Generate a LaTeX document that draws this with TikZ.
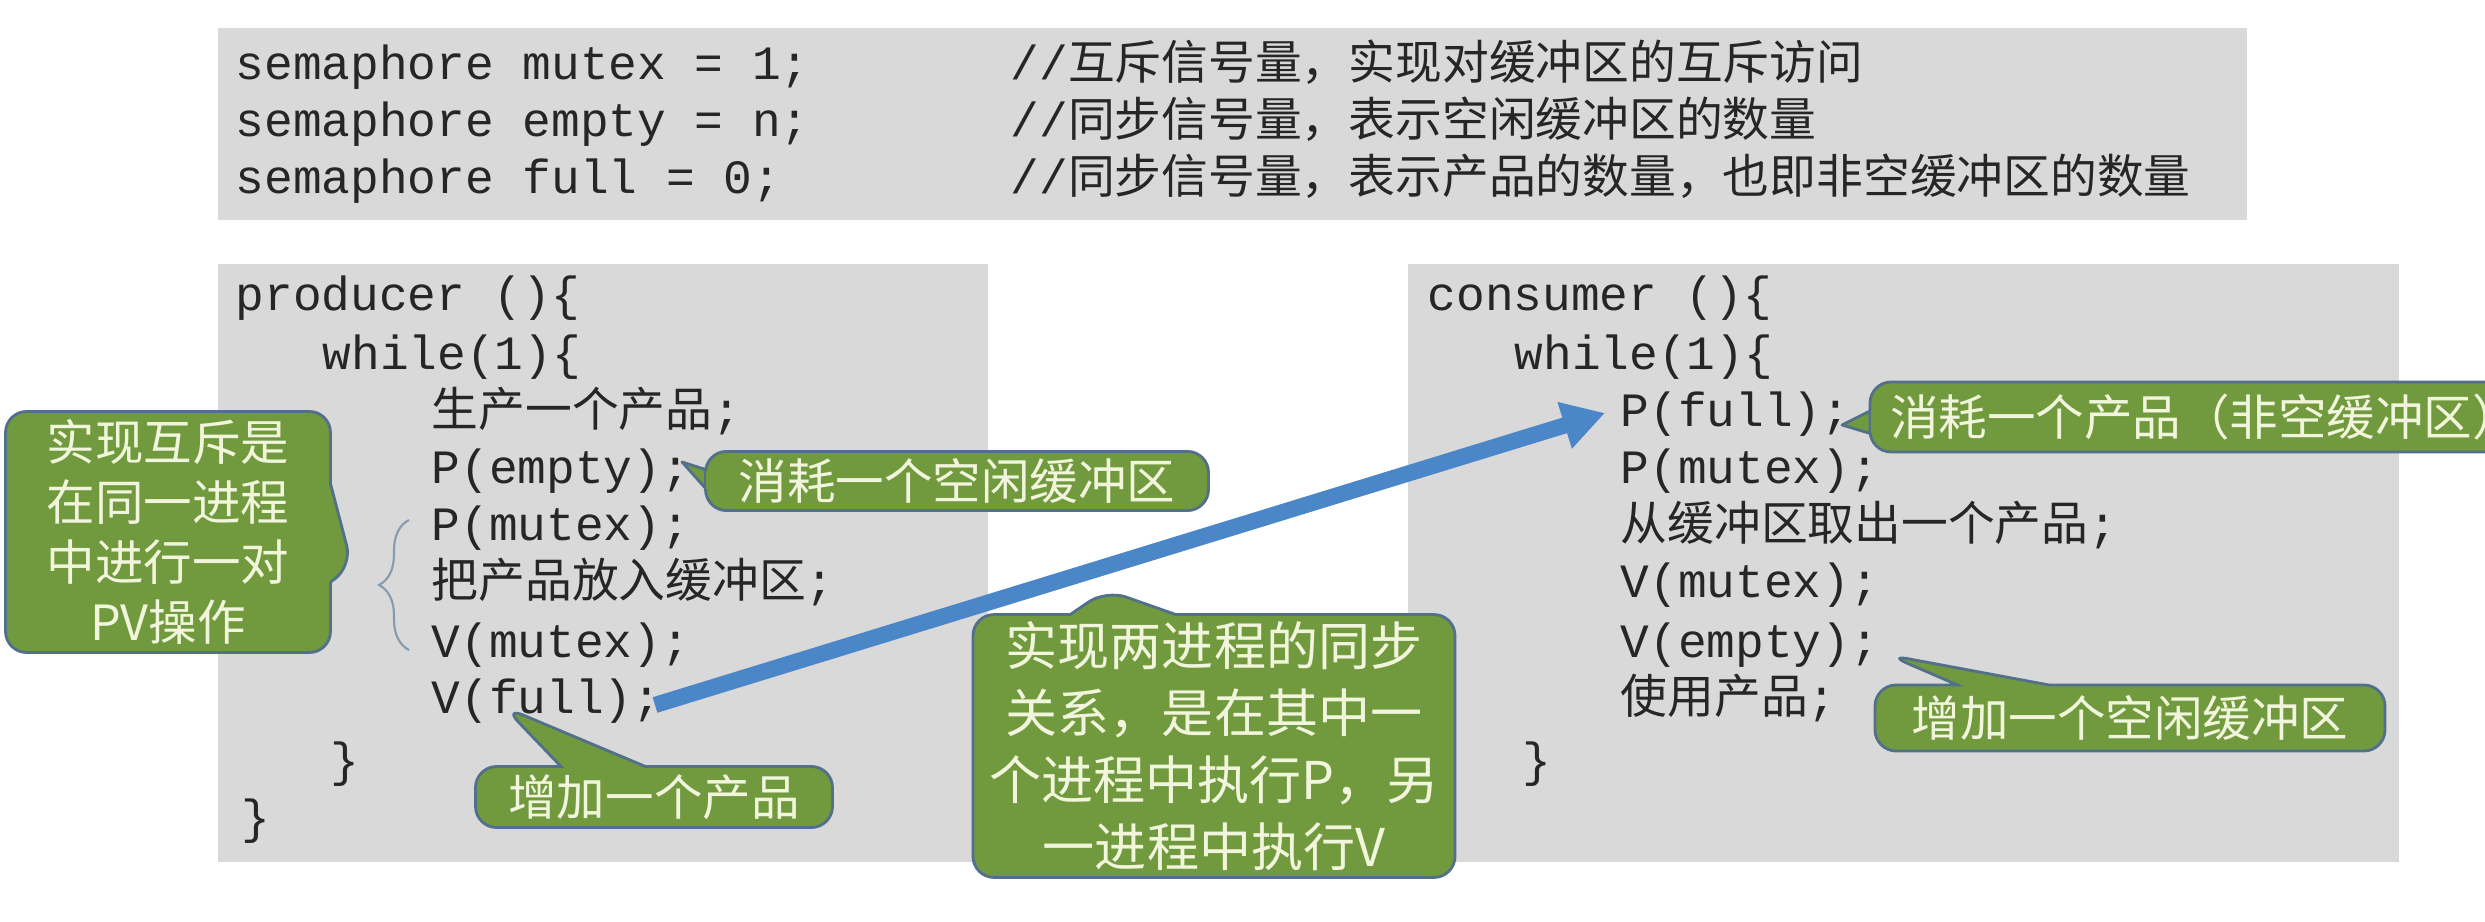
\documentclass[tikz,border=0pt]{standalone}
\usepackage{fontspec}
\setmonofont{Liberation Mono}
\newfontfamily\cjk{Noto Sans CJK SC}
\usetikzlibrary{shapes.callouts,arrows.meta,decorations.pathreplacing}
\definecolor{boxgray}{HTML}{D9D9D9}
\definecolor{calfill}{HTML}{71993D}
\definecolor{caledge}{HTML}{52708A}
\definecolor{caltext}{HTML}{F1F5DC}
\definecolor{arrblue}{HTML}{4A86C8}
\definecolor{codetext}{HTML}{262626}
\tikzset{
  codebox/.style={fill=boxgray,draw=none},
  code/.style={anchor=base west,inner sep=0pt,text=codetext,font=\ttfamily\fontsize{13.6}{16}\selectfont},
  callbox/.style={rectangle callout,fill=calfill,draw=caledge,line width=0.8pt,rounded corners=6pt,
    text=caltext,font=\cjk\fontsize{13.8}{17}\selectfont,align=center,inner sep=2pt},
  plainbox/.style={rectangle,fill=calfill,draw=caledge,line width=0.8pt,rounded corners=6pt,
    text=caltext,font=\cjk\fontsize{13.8}{17}\selectfont,align=center,inner sep=2pt},
  tri/.style={fill=calfill,draw=caledge,line width=0.8pt,line join=round},
}
\newcommand{\zh}[1]{{\cjk\fontsize{13.3}{16}\selectfont #1}}
\begin{document}
\begin{tikzpicture}[x=0.01cm,y=-0.01cm]
\useasboundingbox (0,0) rectangle (2485,922);
\fill[white] (0,0) rectangle (2485,922);
% gray boxes
\node[codebox,minimum width=2029*0.01cm,minimum height=192*0.01cm,anchor=north west,inner sep=0] (topbox) at (217,27) {};
\node[codebox,minimum width=770*0.01cm,minimum height=598*0.01cm,anchor=north west,inner sep=0] (lbox) at (217,263) {};
\node[codebox,minimum width=991*0.01cm,minimum height=598*0.01cm,anchor=north west,inner sep=0] (rbox) at (1407,263) {};
% top declarations
\node[code] (d1) at (235,80) {semaphore mutex = 1;};
\node[code] (d2) at (235,137) {semaphore empty = n;};
\node[code] (d3) at (235,194) {semaphore full = 0;};
\node[code] (c1) at (1010,80) {//\zh{互斥信号量，实现对缓冲区的互斥访问}};
\node[code] (c2) at (1010,137) {//\zh{同步信号量，表示空闲缓冲区的数量}};
\node[code] (c3) at (1010,194) {//\zh{同步信号量，表示产品的数量，也即非空缓冲区的数量}};
% producer
\node[code] (p0) at (235,311) {producer ()\{};
\node[code] (p1) at (322,370) {while(1)\{};
\node[code] (p2) at (431,427) {\zh{生产一个产品};};
\node[code] (p3) at (431,484) {P(empty);};
\node[code] (p4) at (431,541) {P(mutex);};
\node[code] (p5) at (431,598) {\zh{把产品放入缓冲区};};
\node[code] (p6) at (431,657) {V(mutex);};
\node[code] (p7) at (431,714) {V(full);};
\node[code] (p8) at (330,776) {\}};
\node[code] (p9) at (241,833) {\}};
% consumer
\node[code] (q0) at (1427,311) {consumer ()\{};
\node[code] (q1) at (1514,370) {while(1)\{};
\node[code] (q2) at (1620,427) {P(full);};
\node[code] (q3) at (1620,484) {P(mutex);};
\node[code] (q4) at (1620,541) {\zh{从缓冲区取出一个产品};};
\node[code] (q5) at (1620,598) {V(mutex);};
\node[code] (q6) at (1620,657) {V(empty);};
\node[code] (q7) at (1620,714) {\zh{使用产品};};
\node[code] (q8) at (1522,776) {\}};
% brace
\coordinate (bb) at (409,650);
\coordinate (bt) at (409,520);
\draw[caledge!70,line width=0.6pt,decoration={brace,amplitude=0.3cm,aspect=0.5}] decorate {(bb) -- (bt)};
% blue arrow
\coordinate (as) at (655,705);
\coordinate (ae) at (1605,413);
\draw[arrblue,line width=4.6pt,-{Triangle[length=12pt,width=13pt]}] (as) -- (ae);
% callouts
\coordinate (t1) at (682,462);
\coordinate (t2) at (352,566);
\coordinate (t3) at (504,707);
\coordinate (t4) at (1106,590);
\coordinate (t5) at (1842,425);
\coordinate (t6) at (1888,655);
% k1 with manual pointer
\coordinate (k1a) at (707,470);
\coordinate (k1b) at (707,490);
\draw[tri] (k1a) -- (t1) -- (k1b);
\node[plainbox,minimum width=503*0.01cm,minimum height=58*0.01cm] (k1) at (957,481) {消耗一个空闲缓冲区};
\fill[calfill] ([xshift=-0.3pt,yshift=0.2pt]k1b) rectangle ([xshift=1.2pt,yshift=-0.2pt]k1a);
\node[callbox,minimum width=325*0.01cm,minimum height=241*0.01cm,callout absolute pointer={(t2)},callout pointer width=28pt] (k2) at (168,532) {实现互斥是\\在同一进程\\中进行一对\\PV操作};
\node[callbox,minimum width=357*0.01cm,minimum height=61*0.01cm,callout absolute pointer={(t3)},callout pointer width=24pt] (k3) at (654,797) {增加一个产品};
\node[callbox,font=\cjk\fontsize{14.8}{19}\selectfont,minimum width=482*0.01cm,minimum height=236*0.01cm,callout absolute pointer={(t4)},callout pointer width=30pt] (k4) at (1214,746) {实现两进程的同步\\关系，是在其中一\\个进程中执行P，另\\一进程中执行V};
% k5 with manual pointer
\coordinate (k5a) at (1872,410);
\coordinate (k5b) at (1872,434);
\draw[tri] (k5a) -- (t5) -- (k5b);
\node[plainbox,minimum width=640*0.01cm,minimum height=70*0.01cm,align=left,text width=600*0.01cm] (k5) at (2190,417) {消耗一个产品（非空缓冲区）};
\fill[calfill] ([xshift=-0.3pt,yshift=0.2pt]k5b) rectangle ([xshift=1.2pt,yshift=-0.2pt]k5a);
\node[callbox,minimum width=510*0.01cm,minimum height=66*0.01cm,callout absolute pointer={(t6)},callout pointer width=26pt] (k6) at (2130,718) {增加一个空闲缓冲区};
\end{tikzpicture}
\end{document}
